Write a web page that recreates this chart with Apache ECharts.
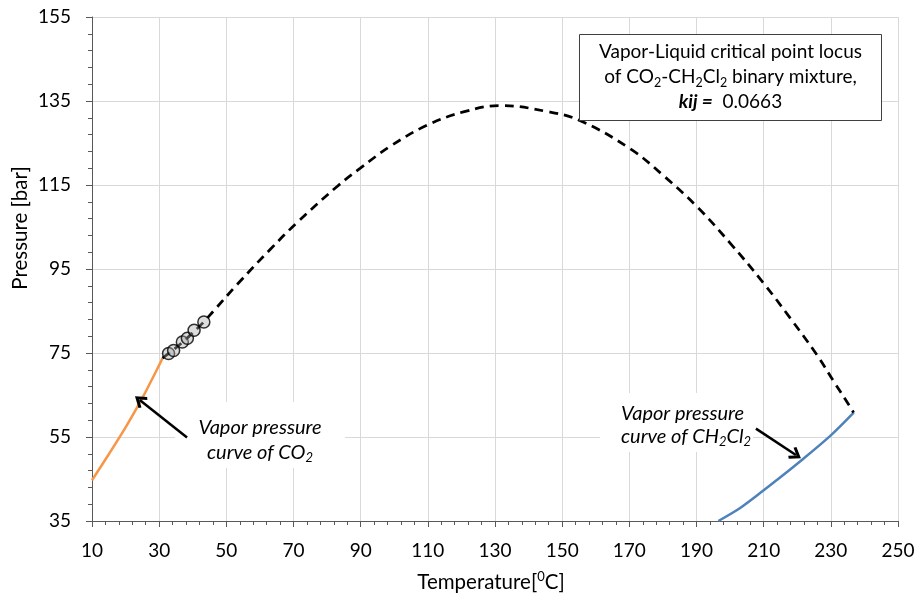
<!DOCTYPE html>
<html><head><meta charset="utf-8">
<script src="https://cdn.jsdelivr.net/npm/echarts@6/dist/echarts.min.js"></script>
<style>html,body{margin:0;padding:0;background:#fff}#c{width:918px;height:599px}</style>
</head><body><div id="c"></div>
<script>
// CO2 vapor pressure curve
const co2VaporT = [10, 15, 20, 25, 30, 31];
const co2VaporP = [44.7, 50.9, 57.3, 64.3, 72.1, 73.8];
// CH2Cl2 vapor pressure curve
const ch2cl2VaporT = [196.5, 203, 210, 214, 221, 230, 236.8];
const ch2cl2VaporP = [35, 38.1, 42.3, 44.8, 49.3, 55.4, 60.8];
// Vapor-liquid critical point locus (calculated)
const locusT = [31, 34.3, 38.4, 43.3, 46.2, 53.2, 63.1, 71.0, 82.9, 89.9, 98.8, 109.7, 120.6, 131.6, 145.5, 155.4, 170.3, 180.2, 190.2, 200.2, 210.0, 218.0, 225.9, 230.9, 235.9, 236.8];
const locusP = [73.8, 75.8, 78.6, 82.4, 85.0, 91.3, 99.7, 106.0, 114.6, 119.0, 124.2, 129.2, 132.4, 133.9, 132.5, 130.3, 123.6, 117.2, 109.8, 101.0, 91.6, 83.2, 74.5, 68.2, 62.0, 60.8];
// Experimental critical points
const expT = [32.8, 34.3, 36.9, 38.4, 40.4, 43.3];
const expP = [74.9, 75.6, 77.6, 78.5, 80.4, 82.4];
// Annotation arrows [tail, head]
const arrowCO2 = [[38.3, 54.9], [24.2, 63.8]];
const arrowCH2Cl2 = [[207.7, 57.0], [219.6, 50.7]];
// Axis ticks
const xMin = 10, xMax = 250, xStep = 20;
const yMin = 35, yMax = 155, yStep = 20;

const FONT = 'Lato, "Open Sans", sans-serif';
const zip = (a, b) => a.map((v, i) => [v, b[i]]);
const chevron = 'path://M5,0 L10,8 L8.4,9.6 L5,4.2 L1.6,9.6 L0,8 Z';
const axisColor = '#595959';

const chart = echarts.init(document.getElementById('c'), null, {renderer: 'canvas'});
chart.setOption({
  animation: false,
  backgroundColor: '#fff',
  grid: {left: 92, right: 20, top: 17, bottom: 78, containLabel: false},
  xAxis: {
    type: 'value', min: xMin, max: xMax, interval: xStep,
    axisLine: {show: true, onZero: false, lineStyle: {color: axisColor, width: 1}},
    axisTick: {show: true, length: 6, lineStyle: {color: axisColor}},
    minorTick: {show: true, splitNumber: 5, length: 4, lineStyle: {color: axisColor}},
    splitLine: {show: true, lineStyle: {color: '#d9d9d9', width: 1}},
    axisLabel: {fontSize: 19, color: '#000', margin: 20, fontFamily: FONT}
  },
  yAxis: {
    type: 'value', min: yMin, max: yMax, interval: yStep,
    axisLine: {show: true, onZero: false, lineStyle: {color: axisColor, width: 1}},
    axisTick: {show: true, length: 6, lineStyle: {color: axisColor}},
    minorTick: {show: true, splitNumber: 5, length: 4, lineStyle: {color: axisColor}},
    splitLine: {show: true, lineStyle: {color: '#d9d9d9', width: 1}},
    axisLabel: {fontSize: 19, color: '#000', margin: 21, fontFamily: FONT}
  },
  graphic: {elements: [
    {type: 'rect', z: 1, shape: {x: 175, y: 402, width: 170, height: 66}, style: {fill: '#fff'}},
    {type: 'rect', z: 1, shape: {x: 600, y: 393, width: 153, height: 59}, style: {fill: '#fff'}},
    {type: 'text', z: 3, x: 260, y: 440, style: {
      text: 'Vapor pressure\ncurve of CO{s|2}', align: 'center', verticalAlign: 'middle',
      fontSize: 20, fontStyle: 'italic', fontFamily: FONT, fill: '#000', lineHeight: 24.5,
      rich: {s: {fontSize: 13, fontStyle: 'italic', fontFamily: FONT, lineHeight: 14, verticalAlign: 'bottom'}}
    }},
    {type: 'text', z: 3, x: 621, y: 425, style: {
      text: 'Vapor pressure\ncurve of CH{s|2}Cl{s|2}', align: 'left', verticalAlign: 'middle',
      fontSize: 20, fontStyle: 'italic', fontFamily: FONT, fill: '#000', lineHeight: 23.5,
      rich: {s: {fontSize: 13, fontStyle: 'italic', fontFamily: FONT, lineHeight: 14, verticalAlign: 'bottom'}}
    }},
    {type: 'rect', z: 10, shape: {x: 579.5, y: 34.5, width: 302, height: 86}, style: {fill: '#fff', stroke: '#404040', lineWidth: 1}},
    {type: 'text', z: 11, x: 730.5, y: 77, style: {
      text: 'Vapor-Liquid critical point locus\nof CO{s|2}-CH{s|2}Cl{s|2} binary mixture,\n{b|kij =}  0.0663',
      align: 'center', verticalAlign: 'middle', fontSize: 19, fontFamily: FONT, fill: '#000', lineHeight: 25,
      rich: {
        s: {fontSize: 12.5, fontFamily: FONT, lineHeight: 14, verticalAlign: 'bottom'},
        b: {fontSize: 19, fontFamily: FONT, fontWeight: 'bold', fontStyle: 'italic', lineHeight: 25}
      }
    }},
    {type: 'text', z: 3, x: 20, y: 228, rotation: Math.PI / 2, style: {
      text: 'Pressure [bar]', align: 'center', verticalAlign: 'middle', fontSize: 20.5, fontFamily: FONT, fill: '#000'
    }},
    {type: 'text', z: 3, x: 491, y: 582, style: {
      text: 'Temperature[{p|0}C]', align: 'center', verticalAlign: 'middle', fontSize: 20.5, fontFamily: FONT, fill: '#000', lineHeight: 24,
      rich: {p: {fontSize: 13, fontFamily: FONT, lineHeight: 12, verticalAlign: 'top'}}
    }}
  ]},
  series: [
    {type: 'line', name: 'CO2 vapor pressure', data: zip(co2VaporT, co2VaporP), showSymbol: false, smooth: 0.3,
     lineStyle: {color: '#F79646', width: 2.5}, z: 4, silent: true},
    {type: 'line', name: 'CH2Cl2 vapor pressure', data: zip(ch2cl2VaporT, ch2cl2VaporP), showSymbol: false, smooth: 0.3,
     lineStyle: {color: '#4F81BD', width: 2.5}, z: 4, silent: true},
    {type: 'line', name: 'Critical locus', data: zip(locusT, locusP), showSymbol: false, smooth: 0.4,
     lineStyle: {color: '#000', width: 2.75, type: [9, 6]}, z: 5, silent: true,
     markLine: {
       silent: true, symbol: ['none', chevron], symbolSize: [14, 12], precision: 3,
       label: {show: false}, lineStyle: {color: '#000', width: 2.5, type: 'solid'},
       emphasis: {disabled: true},
       data: [
         [{coord: arrowCO2[0]}, {coord: arrowCO2[1]}],
         [{coord: arrowCH2Cl2[0]}, {coord: arrowCH2Cl2[1]}]
       ]
     }},
    {type: 'scatter', name: 'Experimental', data: zip(expT, expP), symbol: 'circle', symbolSize: 12,
     itemStyle: {color: 'rgba(170,170,170,0.5)', borderColor: '#000', borderWidth: 1.5}, z: 6, silent: true}
  ]
});
</script></body></html>
